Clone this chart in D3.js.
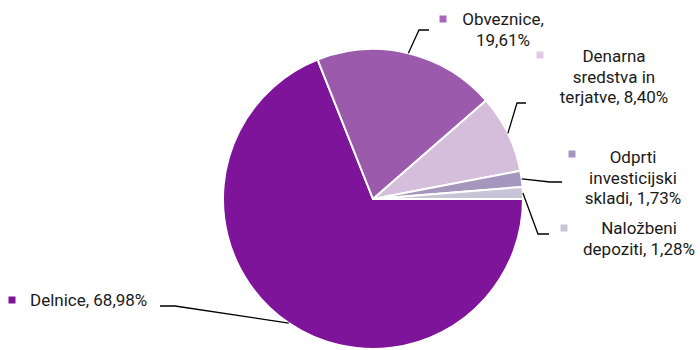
<!DOCTYPE html>
<html><head><meta charset="utf-8">
<script src="https://cdn.jsdelivr.net/npm/d3@7"></script>
<style>body{margin:0;background:#fff}svg{display:block}text{font-family:Roboto,"DejaVu Sans Condensed",sans-serif;font-size:17px;fill:#1a1a1a}</style>
</head><body>
<svg id="c" width="700" height="350"></svg>
<script>
const categories = ["Delnice", "Obveznice", "Denarna sredstva in terjatve", "Odprti investicijski skladi", "Naložbeni depoziti"];
const values = [68.98, 19.61, 8.40, 1.73, 1.28];
const labelLines = [["Delnice, 68,98%"], ["Obveznice,", "19,61%"], ["Denarna", "sredstva in", "terjatve, 8,40%"], ["Odprti", "investicijski", "skladi, 1,73%"], ["Naložbeni", "depoziti, 1,28%"]];
const colors = ["#7e1499", "#9b5aab", "#d5bedb", "#a596be", "#c9c3d8"];
const markerColors = ["#7e1499", "#a965c0", "#e0cbe6", "#a596be", "#c9c3d8"];

const svg = d3.select("#c");
const cx = 373, cy = 199, R = 150;
const pie = d3.pie().sort(null).startAngle(Math.PI/2).endAngle(Math.PI/2 + 2*Math.PI);
const arcs = pie(values);
const arc = d3.arc().innerRadius(0).outerRadius(R);
const g = svg.append("g").attr("transform", `translate(${cx},${cy})`);
g.selectAll("path").data(arcs).join("path")
  .attr("d", arc).attr("fill", (d,i)=>colors[i])
  .attr("stroke", "#fff").attr("stroke-width", 2).attr("stroke-linejoin","round");

const layout = [
  {frac:0.5, elbow:[175,306], end:[160,306], marker:[12,300], tx:30, ty:306, anchor:"start"},
  {frac:0.5, elbow:[419,30], end:[429,30], marker:[443,19], tx:503, ty:25, anchor:"middle"},
  {frac:0.5, elbow:[517,103], end:[526,103], marker:[540,55], tx:614, ty:62, anchor:"middle"},
  {frac:0.5, elbow:[550,182], end:[562,182], marker:[572,154], tx:633, ty:163, anchor:"middle"},
  {frac:0.5, elbow:[538,234], end:[549,234], marker:[564,228], tx:639, ty:234, anchor:"middle"}
];
const lh = 20.5;
arcs.forEach((a,i)=>{
  const L = layout[i];
  const ang = a.startAngle + (a.endAngle - a.startAngle)*L.frac;
  const sx = cx + R*Math.sin(ang), sy = cy - R*Math.cos(ang);
  svg.append("polyline")
    .attr("points", [[sx,sy], L.elbow, L.end].map(p=>p.join(",")).join(" "))
    .attr("fill","none").attr("stroke","#000").attr("stroke-width",1.3);
  svg.append("rect").attr("x", L.marker[0]-3.5).attr("y", L.marker[1]-3.5)
    .attr("width",7).attr("height",7).attr("fill", markerColors[i]);
  const t = svg.append("text").attr("text-anchor", L.anchor);
  labelLines[i].forEach((s,j)=>{
    t.append("tspan").attr("x", L.tx).attr("y", L.ty + j*lh).text(s);
  });
});
</script>
</body></html>
